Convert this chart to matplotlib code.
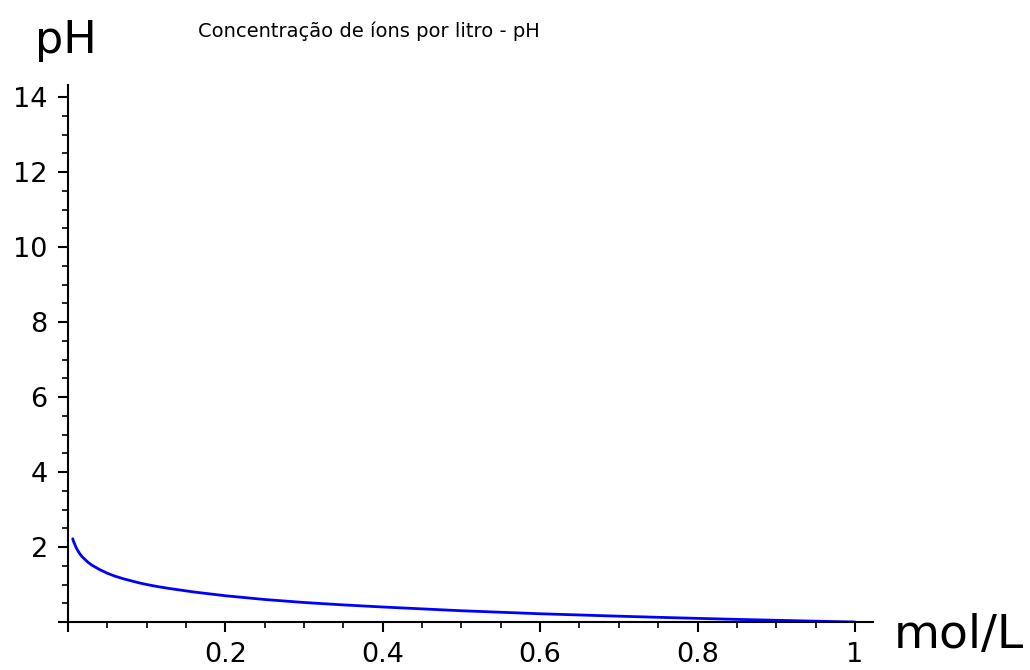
import matplotlib
matplotlib.use("Agg")
import matplotlib.pyplot as plt
from matplotlib.ticker import MultipleLocator, FixedLocator, FixedFormatter

# Hydrogen-ion concentration (mol/L) and corresponding pH
conc = [0.006, 0.007, 0.008, 0.009, 0.01, 0.012, 0.015, 0.018, 0.02, 0.025,
        0.03, 0.035, 0.04, 0.05, 0.06, 0.07, 0.08, 0.09, 0.10, 0.115, 0.13,
        0.16, 0.20, 0.25, 0.30, 0.35, 0.40, 0.45, 0.50, 0.55, 0.60, 0.65,
        0.70, 0.75, 0.80, 0.85, 0.90, 0.95, 1.00]
ph = [2.22, 2.15, 2.10, 2.05, 2.00, 1.92, 1.82, 1.74, 1.70, 1.60,
      1.52, 1.46, 1.40, 1.30, 1.22, 1.155, 1.10, 1.045, 1.00, 0.94, 0.89,
      0.80, 0.70, 0.60, 0.52, 0.456, 0.40, 0.35, 0.30, 0.26, 0.22, 0.187,
      0.155, 0.125, 0.097, 0.07, 0.046, 0.022, 0.00]

x_ticks = [0.0, 0.2, 0.4, 0.6, 0.8, 1.0]
x_tick_labels = ["", "0.2", "0.4", "0.6", "0.8", "1"]
y_ticks = [0, 2, 4, 6, 8, 10, 12, 14]
y_tick_labels = ["", "2", "4", "6", "8", "10", "12", "14"]

title = "Concentração de íons por litro - pH"
xlabel = "mol/L"
ylabel = "pH"

W, H = 1030, 670
fig = plt.figure(figsize=(W / 100, H / 100), dpi=100)

x0, x1 = 68, 873
y0, y1 = 622, 85
ax = fig.add_axes([x0 / W, 1 - y0 / H, (x1 - x0) / W, (y0 - y1) / H])
ax.plot(conc, ph, color=(0, 0, 1), lw=2.0, solid_capstyle="round",
        solid_joinstyle="round")

ax.set_xlim(0, 1.023)
ax.set_ylim(0, 14.32)

for side in ("top", "right"):
    ax.spines[side].set_visible(False)
for side in ("left", "bottom"):
    ax.spines[side].set_linewidth(1.5)
    ax.spines[side].set_clip_on(False)

ax.xaxis.set_major_locator(FixedLocator(x_ticks))
ax.xaxis.set_major_formatter(FixedFormatter(x_tick_labels))
ax.yaxis.set_major_locator(FixedLocator(y_ticks))
ax.yaxis.set_major_formatter(FixedFormatter(y_tick_labels))
ax.xaxis.set_minor_locator(MultipleLocator(0.05))
ax.yaxis.set_minor_locator(MultipleLocator(0.5))

ax.tick_params(which="major", direction="out", length=7.5, width=1.5,
               labelsize=19.5, pad=7, colors="black")
ax.tick_params(which="minor", direction="out", length=4.5, width=1.2)
for t in ax.xaxis.get_major_ticks() + ax.yaxis.get_major_ticks():
    t.tick1line.set_clip_on(False)

fig.text(369 / W, 1 - 31 / H, title, ha="center", va="center", fontsize=14)
fig.text(66 / W, 1 - 40 / H, ylabel, ha="center", va="center", fontsize=32)
fig.text(959 / W, 1 - 636 / H, xlabel, ha="center", va="center", fontsize=34)

fig.savefig("out.png", dpi=100)
